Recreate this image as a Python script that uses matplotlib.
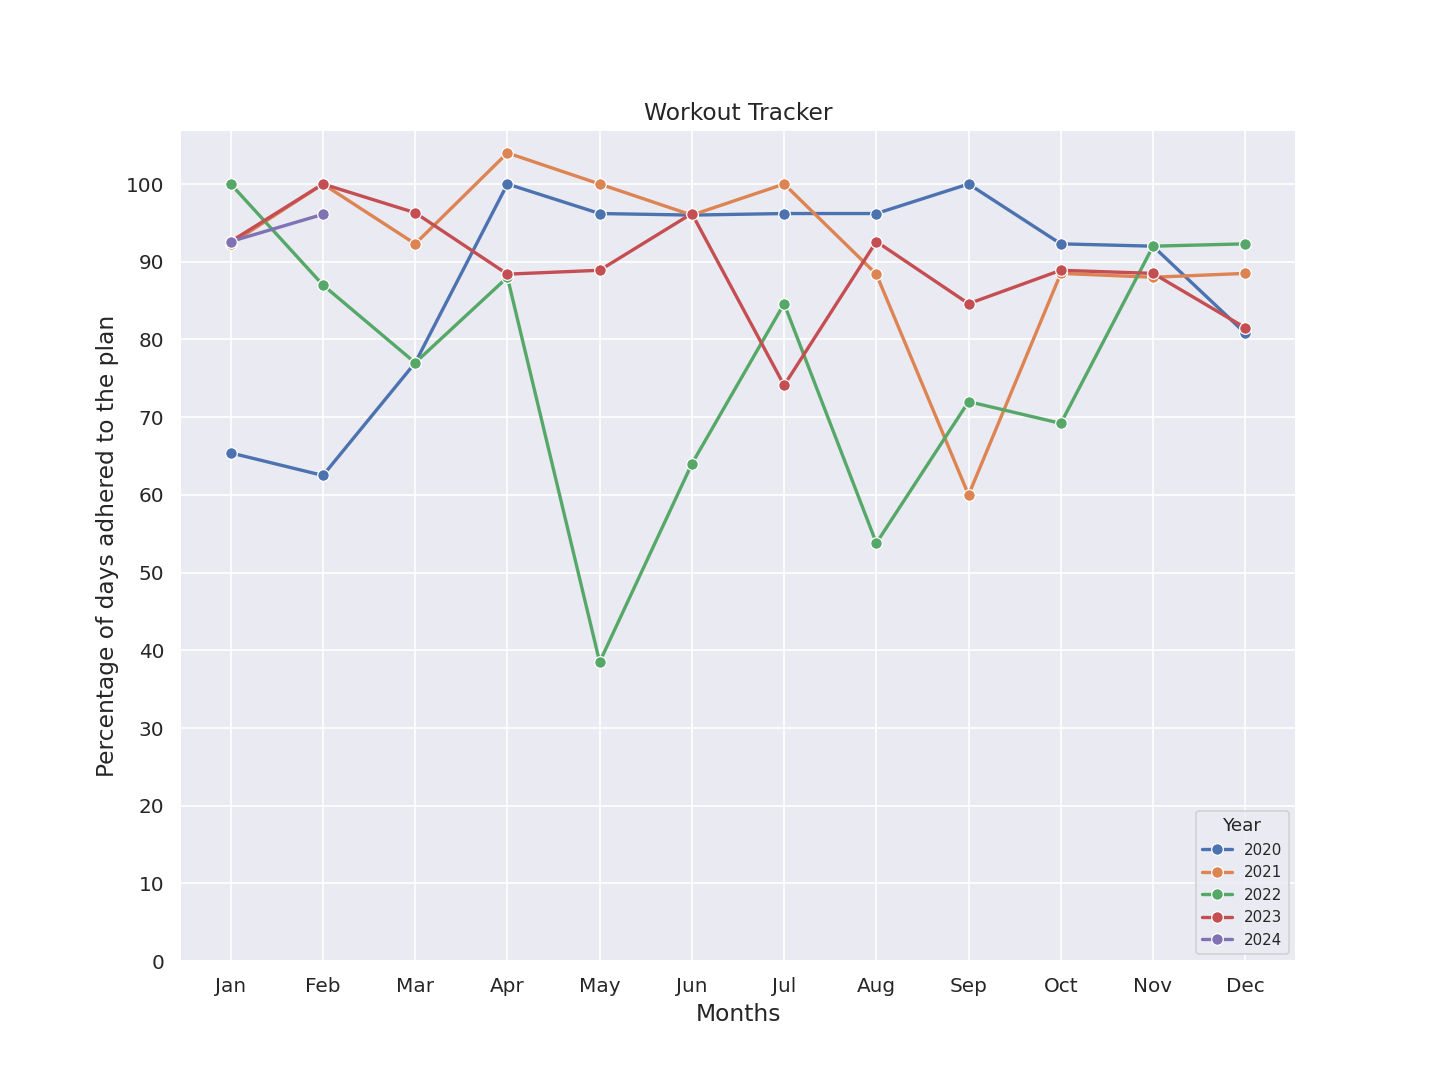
import matplotlib
matplotlib.use("Agg")
import matplotlib.pyplot as plt
import seaborn as sns
import pandas as pd

months = ["Jan", "Feb", "Mar", "Apr", "May", "Jun", "Jul", "Aug", "Sep", "Oct", "Nov", "Dec"]
y2020 = [65.4, 62.5, 77.0, 100.0, 96.2, 96.0, 96.2, 96.2, 100.0, 92.3, 92.0, 80.8]
y2021 = [92.3, 100.0, 92.3, 104.0, 100.0, 96.0, 100.0, 88.4, 60.0, 88.5, 88.0, 88.5]
y2022 = [100.0, 87.0, 77.0, 88.0, 38.5, 64.0, 84.6, 53.8, 72.0, 69.2, 92.0, 92.3]
y2023 = [92.6, 100.0, 96.3, 88.4, 88.9, 96.2, 74.1, 92.6, 84.6, 88.9, 88.5, 81.5]
y2024 = [92.6, 96.1]

rows = []
for year, vals in [(2020, y2020), (2021, y2021), (2022, y2022), (2023, y2023), (2024, y2024)]:
    for m, v in zip(months, vals):
        rows.append({"Month": m, "Value": v, "Year": str(year)})
df = pd.DataFrame(rows)

sns.set_theme(style="darkgrid")
fig, ax = plt.subplots(figsize=(12, 9), dpi=120)
sns.lineplot(data=df, x="Month", y="Value", hue="Year", marker="o",
             markersize=7, linewidth=2, ax=ax, sort=False)
ax.set_ylim(0, 107)
ax.set_yticks(range(0, 101, 10))
ax.set_title("Workout Tracker", fontsize=14)
ax.set_xlabel("Months", fontsize=14)
ax.set_ylabel("Percentage of days adhered to the plan", fontsize=14)
ax.tick_params(labelsize=12)
leg = ax.legend(title="Year", loc="lower right", fontsize=9, title_fontsize=11)
fig.savefig("out.png")
